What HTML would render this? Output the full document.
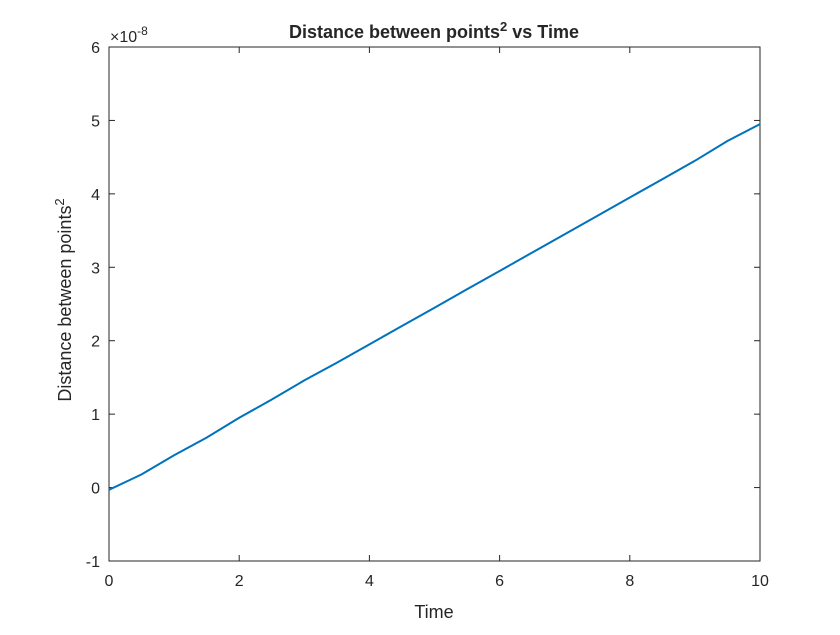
<!DOCTYPE html>
<html><head><meta charset="utf-8"><style>
body{margin:0;background:#fff;}
svg text{font-family:"Liberation Sans",Arial,sans-serif;fill:#262626;}
</style></head><body>
<svg width="840" height="630">
<rect x="0" y="0" width="840" height="630" fill="#fff"/>
<rect x="109" y="47" width="651" height="514" fill="#fff" stroke="#262626" stroke-width="1"/>
<g id="xt"></g>
<g id="yt"></g>
<path id="line" fill="none" stroke="#0072BD" stroke-width="2"/>
<text x="434" y="38" text-anchor="middle" font-size="18" font-weight="bold">Distance between points<tspan dy="-7" font-size="13">2</tspan><tspan dy="7"> vs Time</tspan></text>
<text x="434" y="618" text-anchor="middle" font-size="18">Time</text>
<text transform="translate(71,300) rotate(-90)" text-anchor="middle" font-size="18">Distance between points<tspan dy="-7" font-size="13">2</tspan></text>
<text x="110" y="42" font-size="16">×10<tspan dy="-7" font-size="12">-8</tspan></text>
</svg>
<script>
const times=[0,0.5,1,1.5,2,2.5,3,3.5,4,4.5,5,5.5,6,6.5,7,7.5,8,8.5,9,9.5,10];
const values=[-0.03,0.18,0.44,0.68,0.95,1.2,1.46,1.7,1.95,2.2,2.45,2.7,2.95,3.2,3.45,3.7,3.95,4.2,4.45,4.72,4.95];
const xTicks=[0,2,4,6,8,10];
const yTicks=[-1,0,1,2,3,4,5,6];
const NS="http://www.w3.org/2000/svg";
const X=v=>109+v*65.1;
const Y=v=>561-(v+1)*(514/7);
const xt=document.getElementById('xt'),yt=document.getElementById('yt');
xTicks.forEach(t=>{
 const l=document.createElementNS(NS,'line');
 l.setAttribute('x1',X(t));l.setAttribute('x2',X(t));l.setAttribute('y1',561);l.setAttribute('y2',555);l.setAttribute('stroke','#262626');
 
 
 xt.appendChild(l);
 const l2=l.cloneNode();l2.setAttribute('y1',47);l2.setAttribute('y2',53);xt.appendChild(l2);
 const tx=document.createElementNS(NS,'text');
 tx.setAttribute('x',X(t));tx.setAttribute('y',586);tx.setAttribute('text-anchor','middle');tx.setAttribute('font-size','16');
 tx.textContent=t;
 
 
 xt.appendChild(tx);
});
yTicks.forEach(t=>{
 const l=document.createElementNS(NS,'line');
 l.setAttribute('x1',109);l.setAttribute('x2',115);l.setAttribute('y1',Y(t));l.setAttribute('y2',Y(t));l.setAttribute('stroke','#262626');
 
 
 yt.appendChild(l);
 const l2=l.cloneNode();l2.setAttribute('x1',760);l2.setAttribute('x2',754);yt.appendChild(l2);
 const tx=document.createElementNS(NS,'text');
 tx.setAttribute('x',100);tx.setAttribute('y',Y(t)+6);tx.setAttribute('text-anchor','end');tx.setAttribute('font-size','16');
 tx.textContent=t;
 
 
 yt.appendChild(tx);
});
document.getElementById('line').setAttribute('d',times.map((t,i)=>(i?'L':'M')+X(t).toFixed(1)+','+Y(values[i]).toFixed(1)).join(''));
</script>
</body></html>
